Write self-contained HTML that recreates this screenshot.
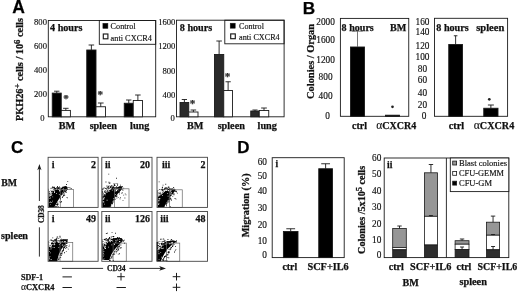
<!DOCTYPE html>
<html><head><meta charset="utf-8"><title>Figure</title>
<style>html,body{margin:0;padding:0;background:#fff}body{width:520px;height:292px;overflow:hidden}svg{display:block}</style>
</head><body>
<svg width="520" height="292" viewBox="0 0 520 292" style="filter:blur(0.35px)">
<rect width="520" height="292" fill="#fff"/>
<text x="12.3" y="13.2" font-size="17.5" font-family='"Liberation Sans", sans-serif' font-weight="bold" stroke="#111" stroke-width="0.25" text-anchor="start" fill="#000">A</text>
<text x="302.8" y="13.5" font-size="17.2" font-family='"Liberation Sans", sans-serif' font-weight="bold" stroke="#111" stroke-width="0.25" text-anchor="start" fill="#000">B</text>
<text x="11" y="153.2" font-size="17" font-family='"Liberation Sans", sans-serif' font-weight="bold" stroke="#111" stroke-width="0.25" text-anchor="start" fill="#000">C</text>
<text x="237.2" y="153" font-size="17" font-family='"Liberation Sans", sans-serif' font-weight="bold" stroke="#111" stroke-width="0.25" text-anchor="start" fill="#000">D</text>
<rect x="48.30" y="20.50" width="107.40" height="96.30" fill="none" stroke="#1a1a1a" stroke-width="0.9"/>
<text x="40.5" y="96.725" font-size="8.6" font-family='"Liberation Serif", serif' stroke="#111" stroke-width="0.15" text-anchor="middle" fill="#111">200</text>
<text x="40.5" y="72.65" font-size="8.6" font-family='"Liberation Serif", serif' stroke="#111" stroke-width="0.15" text-anchor="middle" fill="#111">400</text>
<text x="40.5" y="48.575" font-size="8.6" font-family='"Liberation Serif", serif' stroke="#111" stroke-width="0.15" text-anchor="middle" fill="#111">600</text>
<text x="40.5" y="24.5" font-size="8.6" font-family='"Liberation Serif", serif' stroke="#111" stroke-width="0.15" text-anchor="middle" fill="#111">800</text>
<text x="42.3" y="121" font-size="8.6" font-family='"Liberation Serif", serif' stroke="#111" stroke-width="0.15" text-anchor="middle" fill="#111">0</text>
<text x="23.4" y="69.6" font-size="10" font-family='"Liberation Serif", serif' font-weight="bold" stroke="#111" stroke-width="0.25" text-anchor="middle" fill="#111" transform="rotate(-90 23.4 69.6)" textLength="103" lengthAdjust="spacingAndGlyphs">PKH26<tspan dy="-3.2" font-size="8.5">+</tspan><tspan dy="3.2"> cells / 10</tspan><tspan dy="-3.2" font-size="8.5">6</tspan><tspan dy="3.2"> cells</tspan></text>
<text x="50" y="31.2" font-size="10.2" font-family='"Liberation Serif", serif' font-weight="bold" stroke="#111" stroke-width="0.25" text-anchor="start" fill="#111" textLength="32.5" lengthAdjust="spacingAndGlyphs">4 hours</text>
<rect x="99.30" y="20.50" width="56.40" height="23.80" fill="none" stroke="#1a1a1a" stroke-width="0.9"/>
<rect x="102.90" y="23.30" width="5.00" height="5.10" fill="#000" stroke="#1a1a1a" stroke-width="0.5"/>
<text x="110.6" y="29" font-size="8.3" font-family='"Liberation Serif", serif' stroke="#111" stroke-width="0.15" text-anchor="start" fill="#111" textLength="25" lengthAdjust="spacingAndGlyphs">Control</text>
<rect x="103.30" y="34.00" width="4.60" height="4.80" fill="#fff" stroke="#1a1a1a" stroke-width="1.15"/>
<text x="110.6" y="40.6" font-size="8.3" font-family='"Liberation Serif", serif' stroke="#111" stroke-width="0.15" text-anchor="start" fill="#111" textLength="41.3" lengthAdjust="spacingAndGlyphs">anti CXCR4</text>
<rect x="52.25" y="93.10" width="9.00" height="23.70" fill="#000" stroke="#1a1a1a" stroke-width="0.9"/>
<line x1="56.75" y1="93.10" x2="56.75" y2="91.20" stroke="#1a1a1a" stroke-width="0.9"/>
<line x1="54.05" y1="91.20" x2="59.45" y2="91.20" stroke="#1a1a1a" stroke-width="0.9"/>
<rect x="61.25" y="110.40" width="9.15" height="6.40" fill="#fff" stroke="#1a1a1a" stroke-width="0.9"/>
<line x1="65.83" y1="110.40" x2="65.83" y2="108.30" stroke="#1a1a1a" stroke-width="0.9"/>
<line x1="63.08" y1="108.30" x2="68.57" y2="108.30" stroke="#1a1a1a" stroke-width="0.9"/>
<rect x="86.75" y="50.00" width="9.25" height="66.80" fill="#000" stroke="#1a1a1a" stroke-width="0.9"/>
<line x1="91.38" y1="50.00" x2="91.38" y2="45.00" stroke="#1a1a1a" stroke-width="0.9"/>
<line x1="88.60" y1="45.00" x2="94.15" y2="45.00" stroke="#1a1a1a" stroke-width="0.9"/>
<rect x="96.00" y="106.75" width="9.50" height="10.05" fill="#fff" stroke="#1a1a1a" stroke-width="0.9"/>
<line x1="100.75" y1="106.75" x2="100.75" y2="103.00" stroke="#1a1a1a" stroke-width="0.9"/>
<line x1="97.90" y1="103.00" x2="103.60" y2="103.00" stroke="#1a1a1a" stroke-width="0.9"/>
<rect x="124.25" y="103.25" width="9.00" height="13.55" fill="#000" stroke="#1a1a1a" stroke-width="0.9"/>
<line x1="128.75" y1="103.25" x2="128.75" y2="100.00" stroke="#1a1a1a" stroke-width="0.9"/>
<line x1="126.05" y1="100.00" x2="131.45" y2="100.00" stroke="#1a1a1a" stroke-width="0.9"/>
<rect x="133.25" y="100.50" width="9.25" height="16.30" fill="#fff" stroke="#1a1a1a" stroke-width="0.9"/>
<line x1="137.88" y1="100.50" x2="137.88" y2="95.00" stroke="#1a1a1a" stroke-width="0.9"/>
<line x1="135.10" y1="95.00" x2="140.65" y2="95.00" stroke="#1a1a1a" stroke-width="0.9"/>
<text x="65.9" y="101.5" font-size="11" font-family='"Liberation Serif", serif' font-weight="bold" stroke="#111" stroke-width="0.25" text-anchor="middle" fill="#444">*</text>
<text x="100.3" y="97.8" font-size="11" font-family='"Liberation Serif", serif' font-weight="bold" stroke="#111" stroke-width="0.25" text-anchor="middle" fill="#444">*</text>
<text x="66.9" y="129.3" font-size="10.2" font-family='"Liberation Serif", serif' font-weight="bold" stroke="#111" stroke-width="0.25" text-anchor="middle" fill="#111">BM</text>
<text x="103.25" y="129.3" font-size="10.2" font-family='"Liberation Serif", serif' font-weight="bold" stroke="#111" stroke-width="0.25" text-anchor="middle" fill="#111">spleen</text>
<text x="139.75" y="129.3" font-size="10.2" font-family='"Liberation Serif", serif' font-weight="bold" stroke="#111" stroke-width="0.25" text-anchor="middle" fill="#111">lung</text>
<rect x="176.50" y="20.20" width="107.60" height="96.60" fill="none" stroke="#1a1a1a" stroke-width="0.9"/>
<text x="175.4" y="97.75" font-size="8.6" font-family='"Liberation Serif", serif' stroke="#111" stroke-width="0.15" text-anchor="end" fill="#111">400</text>
<text x="175.4" y="73.6" font-size="8.6" font-family='"Liberation Serif", serif' stroke="#111" stroke-width="0.15" text-anchor="end" fill="#111">800</text>
<text x="175.4" y="49.449999999999996" font-size="8.6" font-family='"Liberation Serif", serif' stroke="#111" stroke-width="0.15" text-anchor="end" fill="#111">1200</text>
<text x="175.4" y="25.300000000000004" font-size="8.6" font-family='"Liberation Serif", serif' stroke="#111" stroke-width="0.15" text-anchor="end" fill="#111">1600</text>
<text x="174.8" y="120.6" font-size="8.6" font-family='"Liberation Serif", serif' stroke="#111" stroke-width="0.15" text-anchor="end" fill="#111">0</text>
<text x="179.75" y="30.6" font-size="10.2" font-family='"Liberation Serif", serif' font-weight="bold" stroke="#111" stroke-width="0.25" text-anchor="start" fill="#111" textLength="32.5" lengthAdjust="spacingAndGlyphs">8 hours</text>
<rect x="224.80" y="20.20" width="59.30" height="23.60" fill="none" stroke="#1a1a1a" stroke-width="0.9"/>
<rect x="230.20" y="23.20" width="5.00" height="5.00" fill="#000" stroke="#1a1a1a" stroke-width="0.5"/>
<text x="239.1" y="28.8" font-size="8.3" font-family='"Liberation Serif", serif' stroke="#111" stroke-width="0.15" text-anchor="start" fill="#111" textLength="24.8" lengthAdjust="spacingAndGlyphs">Control</text>
<rect x="230.70" y="33.90" width="4.60" height="4.80" fill="#fff" stroke="#1a1a1a" stroke-width="1.15"/>
<text x="239.1" y="40.4" font-size="8.3" font-family='"Liberation Serif", serif' stroke="#111" stroke-width="0.15" text-anchor="start" fill="#111" textLength="40.6" lengthAdjust="spacingAndGlyphs">anti CXCR4</text>
<rect x="180.00" y="102.50" width="8.75" height="14.30" fill="#2a2a2a" stroke="#1a1a1a" stroke-width="0.9"/>
<line x1="184.38" y1="102.50" x2="184.38" y2="99.50" stroke="#1a1a1a" stroke-width="0.9"/>
<line x1="181.75" y1="99.50" x2="187.00" y2="99.50" stroke="#1a1a1a" stroke-width="0.9"/>
<rect x="188.75" y="112.00" width="9.25" height="4.80" fill="#fff" stroke="#1a1a1a" stroke-width="0.9"/>
<line x1="193.38" y1="112.00" x2="193.38" y2="110.00" stroke="#1a1a1a" stroke-width="0.9"/>
<line x1="190.60" y1="110.00" x2="196.15" y2="110.00" stroke="#1a1a1a" stroke-width="0.9"/>
<rect x="214.50" y="54.50" width="9.25" height="62.30" fill="#2a2a2a" stroke="#1a1a1a" stroke-width="0.9"/>
<line x1="219.12" y1="54.50" x2="219.12" y2="41.00" stroke="#1a1a1a" stroke-width="0.9"/>
<line x1="216.35" y1="41.00" x2="221.90" y2="41.00" stroke="#1a1a1a" stroke-width="0.9"/>
<rect x="223.75" y="90.50" width="8.75" height="26.30" fill="#fff" stroke="#1a1a1a" stroke-width="0.9"/>
<line x1="228.12" y1="90.50" x2="228.12" y2="81.75" stroke="#1a1a1a" stroke-width="0.9"/>
<line x1="225.50" y1="81.75" x2="230.75" y2="81.75" stroke="#1a1a1a" stroke-width="0.9"/>
<rect x="250.75" y="111.00" width="8.50" height="5.80" fill="#2a2a2a" stroke="#1a1a1a" stroke-width="0.9"/>
<line x1="255.00" y1="111.00" x2="255.00" y2="110.00" stroke="#1a1a1a" stroke-width="0.9"/>
<line x1="252.45" y1="110.00" x2="257.55" y2="110.00" stroke="#1a1a1a" stroke-width="0.9"/>
<rect x="259.25" y="110.50" width="9.50" height="6.30" fill="#fff" stroke="#1a1a1a" stroke-width="0.9"/>
<line x1="264.00" y1="110.50" x2="264.00" y2="108.00" stroke="#1a1a1a" stroke-width="0.9"/>
<line x1="261.15" y1="108.00" x2="266.85" y2="108.00" stroke="#1a1a1a" stroke-width="0.9"/>
<text x="192.6" y="107.4" font-size="11" font-family='"Liberation Serif", serif' font-weight="bold" stroke="#111" stroke-width="0.25" text-anchor="middle" fill="#444">*</text>
<text x="227.6" y="79.5" font-size="11" font-family='"Liberation Serif", serif' font-weight="bold" stroke="#111" stroke-width="0.25" text-anchor="middle" fill="#444">*</text>
<text x="195.1" y="129.3" font-size="10.2" font-family='"Liberation Serif", serif' font-weight="bold" stroke="#111" stroke-width="0.25" text-anchor="middle" fill="#111">BM</text>
<text x="231.25" y="129.3" font-size="10.2" font-family='"Liberation Serif", serif' font-weight="bold" stroke="#111" stroke-width="0.25" text-anchor="middle" fill="#111">spleen</text>
<text x="267.25" y="129.3" font-size="10.2" font-family='"Liberation Serif", serif' font-weight="bold" stroke="#111" stroke-width="0.25" text-anchor="middle" fill="#111">lung</text>
<rect x="340.40" y="18.40" width="68.35" height="97.90" fill="none" stroke="#1a1a1a" stroke-width="0.9"/>
<text x="325.6" y="24.85" font-size="9.3" font-family='"Liberation Serif", serif' stroke="#111" stroke-width="0.15" text-anchor="middle" fill="#111">2000</text>
<text x="325.6" y="43.1" font-size="9.3" font-family='"Liberation Serif", serif' stroke="#111" stroke-width="0.15" text-anchor="middle" fill="#111">1600</text>
<text x="325.6" y="62.6" font-size="9.3" font-family='"Liberation Serif", serif' stroke="#111" stroke-width="0.15" text-anchor="middle" fill="#111">1200</text>
<text x="325.6" y="80.1" font-size="9.3" font-family='"Liberation Serif", serif' stroke="#111" stroke-width="0.15" text-anchor="middle" fill="#111">800</text>
<text x="325.6" y="98.5" font-size="9.3" font-family='"Liberation Serif", serif' stroke="#111" stroke-width="0.15" text-anchor="middle" fill="#111">400</text>
<text x="327.6" y="119.1" font-size="9.3" font-family='"Liberation Serif", serif' stroke="#111" stroke-width="0.15" text-anchor="middle" fill="#111">0</text>
<text x="313.8" y="61.4" font-size="10.5" font-family='"Liberation Serif", serif' font-weight="bold" stroke="#111" stroke-width="0.25" text-anchor="middle" fill="#111" transform="rotate(-90 313.8 61.4)" textLength="75" lengthAdjust="spacingAndGlyphs">Colonies / Organ</text>
<text x="341.6" y="30.6" font-size="10.2" font-family='"Liberation Serif", serif' font-weight="bold" stroke="#111" stroke-width="0.25" text-anchor="start" fill="#111" textLength="32.2" lengthAdjust="spacingAndGlyphs">8 hours</text>
<text x="390" y="30.6" font-size="10.2" font-family='"Liberation Serif", serif' font-weight="bold" stroke="#111" stroke-width="0.25" text-anchor="start" fill="#111" textLength="16.3" lengthAdjust="spacingAndGlyphs">BM</text>
<rect x="350.50" y="47.00" width="14.00" height="69.30" fill="#000" stroke="#1a1a1a" stroke-width="0.9"/>
<line x1="357.50" y1="47.00" x2="357.50" y2="31.20" stroke="#555" stroke-width="0.8"/>
<line x1="352.00" y1="31.20" x2="363.00" y2="31.20" stroke="#555" stroke-width="0.8"/>
<rect x="385.50" y="115.20" width="14.00" height="1.10" fill="#000" stroke="#1a1a1a" stroke-width="0.9"/>
<circle cx="392.5" cy="106.8" r="1.35" fill="#222"/>
<text x="352" y="128.6" font-size="10.2" font-family='"Liberation Serif", serif' font-weight="bold" stroke="#111" stroke-width="0.25" text-anchor="start" fill="#111" textLength="15" lengthAdjust="spacingAndGlyphs">ctrl</text>
<text x="376.2" y="128.6" font-size="10.2" font-family='"Liberation Serif", serif' font-weight="bold" stroke="#111" stroke-width="0.25" text-anchor="start" fill="#111" textLength="40" lengthAdjust="spacingAndGlyphs"><tspan font-weight="normal" stroke-width="0.1" font-size="1.15em">α</tspan>CXCR4</text>
<rect x="434.50" y="18.30" width="73.10" height="98.00" fill="none" stroke="#1a1a1a" stroke-width="0.9"/>
<text x="422.5" y="25.05" font-size="9.3" font-family='"Liberation Serif", serif' stroke="#111" stroke-width="0.15" text-anchor="middle" fill="#111">160</text>
<text x="422.5" y="35.05" font-size="9.3" font-family='"Liberation Serif", serif' stroke="#111" stroke-width="0.15" text-anchor="middle" fill="#111">140</text>
<text x="422.5" y="48.8" font-size="9.3" font-family='"Liberation Serif", serif' stroke="#111" stroke-width="0.15" text-anchor="middle" fill="#111">120</text>
<text x="422.5" y="60.05" font-size="9.3" font-family='"Liberation Serif", serif' stroke="#111" stroke-width="0.15" text-anchor="middle" fill="#111">100</text>
<text x="422.5" y="71.8" font-size="9.3" font-family='"Liberation Serif", serif' stroke="#111" stroke-width="0.15" text-anchor="middle" fill="#111">80</text>
<text x="422.5" y="82.55" font-size="9.3" font-family='"Liberation Serif", serif' stroke="#111" stroke-width="0.15" text-anchor="middle" fill="#111">60</text>
<text x="422.5" y="95.8" font-size="9.3" font-family='"Liberation Serif", serif' stroke="#111" stroke-width="0.15" text-anchor="middle" fill="#111">40</text>
<text x="422.5" y="108.1" font-size="9.3" font-family='"Liberation Serif", serif' stroke="#111" stroke-width="0.15" text-anchor="middle" fill="#111">20</text>
<text x="424" y="118.6" font-size="9.3" font-family='"Liberation Serif", serif' stroke="#111" stroke-width="0.15" text-anchor="middle" fill="#111">0</text>
<text x="436.25" y="30.6" font-size="10.2" font-family='"Liberation Serif", serif' font-weight="bold" stroke="#111" stroke-width="0.25" text-anchor="start" fill="#111" textLength="32.5" lengthAdjust="spacingAndGlyphs">8 hours</text>
<text x="476.25" y="30.6" font-size="10.2" font-family='"Liberation Serif", serif' font-weight="bold" stroke="#111" stroke-width="0.25" text-anchor="start" fill="#111" textLength="28" lengthAdjust="spacingAndGlyphs">spleen</text>
<rect x="448.75" y="44.50" width="13.75" height="71.80" fill="#000" stroke="#1a1a1a" stroke-width="0.9"/>
<line x1="455.62" y1="44.50" x2="455.62" y2="35.75" stroke="#1a1a1a" stroke-width="0.9"/>
<line x1="453.82" y1="35.75" x2="457.43" y2="35.75" stroke="#1a1a1a" stroke-width="0.9"/>
<rect x="483.75" y="108.25" width="14.25" height="8.05" fill="#000" stroke="#1a1a1a" stroke-width="0.9"/>
<line x1="490.88" y1="108.25" x2="490.88" y2="105.00" stroke="#1a1a1a" stroke-width="0.9"/>
<line x1="487.88" y1="105.00" x2="493.88" y2="105.00" stroke="#1a1a1a" stroke-width="0.9"/>
<circle cx="489.3" cy="99.3" r="1.35" fill="#222"/>
<text x="448.75" y="128.6" font-size="10.2" font-family='"Liberation Serif", serif' font-weight="bold" stroke="#111" stroke-width="0.25" text-anchor="start" fill="#111" textLength="15.5" lengthAdjust="spacingAndGlyphs">ctrl</text>
<text x="473.75" y="128.6" font-size="10.2" font-family='"Liberation Serif", serif' font-weight="bold" stroke="#111" stroke-width="0.25" text-anchor="start" fill="#111" textLength="40.5" lengthAdjust="spacingAndGlyphs"><tspan font-weight="normal" stroke-width="0.1" font-size="1.15em">α</tspan>CXCR4</text>
<polygon points="48.6,189.3 51.0,188.0 54.0,188.8 57.0,187.2 60.5,188.8 64.0,186.3 67.0,186.6 67.6,188.3 64.5,192.0 61.0,196.0 58.0,200.6 55.5,205.0 54.3,207.3 48.6,207.3" fill="#000"/>
<path d="M57.1 187.4h0.9v0.9h-0.9zM64.0 187.7h0.9v0.9h-0.9zM57.7 187.3h0.9v0.9h-0.9zM54.0 187.5h0.9v0.9h-0.9zM59.1 186.4h0.9v0.9h-0.9zM52.5 188.0h0.9v0.9h-0.9zM52.4 186.3h0.9v0.9h-0.9zM59.9 188.4h0.9v0.9h-0.9zM66.0 184.0h0.9v0.9h-0.9zM59.4 187.2h0.9v0.9h-0.9zM53.6 188.5h0.9v0.9h-0.9zM57.9 188.4h0.9v0.9h-0.9zM54.1 188.1h0.9v0.9h-0.9zM50.8 187.7h0.9v0.9h-0.9zM57.0 186.0h0.9v0.9h-0.9zM57.8 187.1h0.9v0.9h-0.9zM57.6 187.0h0.9v0.9h-0.9zM57.2 188.1h0.9v0.9h-0.9zM67.3 181.2h0.9v0.9h-0.9zM62.1 186.8h0.9v0.9h-0.9zM55.7 188.1h0.9v0.9h-0.9zM55.4 188.4h0.9v0.9h-0.9zM60.9 187.8h0.9v0.9h-0.9zM62.2 187.8h0.9v0.9h-0.9zM65.0 186.0h0.9v0.9h-0.9zM48.9 188.2h0.9v0.9h-0.9zM63.6 187.6h0.9v0.9h-0.9zM65.9 187.8h0.9v0.9h-0.9zM52.0 187.2h0.9v0.9h-0.9zM61.1 188.1h0.9v0.9h-0.9zM52.3 188.0h0.9v0.9h-0.9zM65.2 186.6h0.9v0.9h-0.9zM53.0 188.1h0.9v0.9h-0.9zM52.6 188.4h0.9v0.9h-0.9zM61.4 188.2h0.9v0.9h-0.9zM58.2 187.7h0.9v0.9h-0.9zM54.1 186.7h0.9v0.9h-0.9zM53.2 187.1h0.9v0.9h-0.9zM52.9 187.8h0.9v0.9h-0.9zM54.4 188.1h0.9v0.9h-0.9zM65.5 186.3h0.9v0.9h-0.9z" fill="#111"/>
<path d="M65.6 192.1h0.9v0.9h-0.9zM64.2 194.8h0.9v0.9h-0.9zM70.7 188.0h0.9v0.9h-0.9zM65.4 191.4h0.9v0.9h-0.9zM63.4 191.7h0.9v0.9h-0.9zM60.1 198.6h0.9v0.9h-0.9zM63.1 195.0h0.9v0.9h-0.9zM61.9 197.1h0.9v0.9h-0.9zM64.9 191.0h0.9v0.9h-0.9zM57.2 202.6h0.9v0.9h-0.9zM60.9 201.0h0.9v0.9h-0.9zM57.6 206.1h0.9v0.9h-0.9zM61.9 194.2h0.9v0.9h-0.9zM55.4 206.2h0.9v0.9h-0.9zM65.7 191.9h0.9v0.9h-0.9zM63.6 192.9h0.9v0.9h-0.9zM66.4 188.0h0.9v0.9h-0.9zM57.5 203.4h0.9v0.9h-0.9zM55.9 204.2h0.9v0.9h-0.9zM64.3 191.1h0.9v0.9h-0.9zM65.3 190.2h0.9v0.9h-0.9zM65.9 190.0h0.9v0.9h-0.9zM56.0 206.2h0.9v0.9h-0.9zM59.9 197.5h0.9v0.9h-0.9zM69.4 187.3h0.9v0.9h-0.9zM55.1 206.2h0.9v0.9h-0.9zM62.5 196.0h0.9v0.9h-0.9zM54.7 206.2h0.9v0.9h-0.9zM60.4 202.0h0.9v0.9h-0.9zM60.0 201.7h0.9v0.9h-0.9zM63.9 194.5h0.9v0.9h-0.9zM56.8 204.9h0.9v0.9h-0.9zM57.2 204.4h0.9v0.9h-0.9zM63.2 194.5h0.9v0.9h-0.9zM67.1 189.1h0.9v0.9h-0.9zM57.5 204.2h0.9v0.9h-0.9zM58.8 201.4h0.9v0.9h-0.9zM56.7 204.1h0.9v0.9h-0.9zM67.6 187.1h0.9v0.9h-0.9zM65.5 191.2h0.9v0.9h-0.9z" fill="#111"/>
<path d="M58.9 193.9h0.8v0.8h-0.8zM53.2 188.3h0.8v0.8h-0.8zM53.9 190.8h0.8v0.8h-0.8zM52.3 188.7h0.8v0.8h-0.8zM63.5 190.7h0.8v0.8h-0.8zM56.1 193.2h0.8v0.8h-0.8zM54.3 190.7h0.8v0.8h-0.8zM52.3 189.5h0.8v0.8h-0.8zM61.9 193.7h0.8v0.8h-0.8zM63.1 189.4h0.8v0.8h-0.8zM58.4 189.1h0.8v0.8h-0.8zM51.3 189.8h0.8v0.8h-0.8zM62.4 192.5h0.8v0.8h-0.8zM60.4 194.9h0.8v0.8h-0.8zM53.5 188.7h0.8v0.8h-0.8zM56.3 189.0h0.8v0.8h-0.8zM52.5 189.5h0.8v0.8h-0.8zM59.0 189.8h0.8v0.8h-0.8zM54.1 192.3h0.8v0.8h-0.8zM64.7 189.6h0.8v0.8h-0.8zM50.3 188.4h0.8v0.8h-0.8zM63.0 188.4h0.8v0.8h-0.8zM60.4 190.2h0.8v0.8h-0.8zM54.0 191.7h0.8v0.8h-0.8zM49.4 188.6h0.8v0.8h-0.8zM56.3 188.4h0.8v0.8h-0.8zM62.3 188.9h0.8v0.8h-0.8zM51.3 188.4h0.8v0.8h-0.8zM59.1 189.6h0.8v0.8h-0.8zM59.1 190.6h0.8v0.8h-0.8zM61.9 195.3h0.8v0.8h-0.8zM60.0 188.8h0.8v0.8h-0.8zM56.7 188.7h0.8v0.8h-0.8zM49.3 189.7h0.8v0.8h-0.8z" fill="#fff"/>
<path d="M50.4 191.9h0.7v0.7h-0.7zM49.3 194.7h0.7v0.7h-0.7zM50.3 197.5h0.7v0.7h-0.7zM50.0 201.4h0.7v0.7h-0.7zM49.5 202.0h0.7v0.7h-0.7zM51.7 190.4h0.7v0.7h-0.7zM52.1 200.8h0.7v0.7h-0.7zM49.1 196.4h0.7v0.7h-0.7zM50.1 203.9h0.7v0.7h-0.7zM49.5 198.3h0.7v0.7h-0.7zM51.4 202.1h0.7v0.7h-0.7zM52.4 196.6h0.7v0.7h-0.7zM50.2 192.4h0.7v0.7h-0.7zM50.4 202.4h0.7v0.7h-0.7z" fill="#fff"/>
<path d="M50.8 192.3h0.9v0.9h-0.9zM49.7 195.3h0.9v0.9h-0.9zM54.6 189.2h0.9v0.9h-0.9zM52.4 189.4h0.9v0.9h-0.9zM50.7 194.9h0.9v0.9h-0.9zM49.9 190.6h0.9v0.9h-0.9zM50.7 189.9h0.9v0.9h-0.9zM52.2 189.9h0.9v0.9h-0.9zM49.1 188.1h0.9v0.9h-0.9zM48.9 189.2h0.9v0.9h-0.9zM49.0 190.1h0.9v0.9h-0.9zM50.6 193.3h0.9v0.9h-0.9zM49.4 189.5h0.9v0.9h-0.9zM52.1 188.6h0.9v0.9h-0.9zM50.4 192.5h0.9v0.9h-0.9zM51.0 189.4h0.9v0.9h-0.9zM49.5 188.5h0.9v0.9h-0.9zM49.1 192.2h0.9v0.9h-0.9zM49.5 193.5h0.9v0.9h-0.9zM50.3 191.3h0.9v0.9h-0.9zM50.2 191.7h0.9v0.9h-0.9zM49.4 191.2h0.9v0.9h-0.9zM51.3 194.2h0.9v0.9h-0.9zM49.7 194.6h0.9v0.9h-0.9zM51.2 188.8h0.9v0.9h-0.9zM49.9 189.0h0.9v0.9h-0.9zM51.1 188.9h0.9v0.9h-0.9zM49.0 188.5h0.9v0.9h-0.9zM51.2 188.8h0.9v0.9h-0.9zM51.8 191.7h0.9v0.9h-0.9zM51.0 189.6h0.9v0.9h-0.9zM48.9 189.2h0.9v0.9h-0.9zM50.8 188.9h0.9v0.9h-0.9zM53.4 190.1h0.9v0.9h-0.9z" fill="#fff"/>
<path d="M67.1 197.4h0.8v0.8h-0.8zM66.5 197.3h0.8v0.8h-0.8z" fill="#222"/>
<rect x="60.25" y="189.40" width="13.25" height="18.00" fill="none" stroke="#666" stroke-width="0.7"/>
<rect x="48.10" y="157.30" width="50.00" height="50.10" fill="none" stroke="#444" stroke-width="0.9"/>
<text x="51.7" y="167.70000000000002" font-size="10" font-family='"Liberation Serif", serif' font-weight="bold" stroke="#111" stroke-width="0.25" text-anchor="start" fill="#111">i</text>
<text x="96.1" y="167.70000000000002" font-size="10" font-family='"Liberation Serif", serif' font-weight="bold" stroke="#111" stroke-width="0.25" text-anchor="end" fill="#111">2</text>
<polygon points="102.3,188.5 105.0,187.8 109.0,189.3 113.0,189.0 117.0,187.5 120.0,186.0 122.3,186.8 122.0,189.0 118.5,193.0 115.0,197.5 112.3,202.0 110.3,207.3 102.3,207.3" fill="#000"/>
<path d="M115.6 183.2h0.9v0.9h-0.9zM111.2 187.6h0.9v0.9h-0.9zM107.9 186.3h0.9v0.9h-0.9zM117.9 188.2h0.9v0.9h-0.9zM115.0 188.4h0.9v0.9h-0.9zM108.0 187.9h0.9v0.9h-0.9zM113.7 187.6h0.9v0.9h-0.9zM110.0 186.3h0.9v0.9h-0.9zM106.5 185.5h0.9v0.9h-0.9zM106.8 186.8h0.9v0.9h-0.9zM108.7 188.0h0.9v0.9h-0.9zM111.8 187.2h0.9v0.9h-0.9zM110.2 187.3h0.9v0.9h-0.9zM111.8 188.1h0.9v0.9h-0.9zM108.1 186.2h0.9v0.9h-0.9zM113.0 186.8h0.9v0.9h-0.9zM116.2 186.3h0.9v0.9h-0.9zM116.4 187.9h0.9v0.9h-0.9zM114.4 184.7h0.9v0.9h-0.9zM117.3 187.6h0.9v0.9h-0.9zM109.5 182.6h0.9v0.9h-0.9zM108.3 173.7h0.9v0.9h-0.9zM117.0 188.2h0.9v0.9h-0.9zM108.6 185.5h0.9v0.9h-0.9zM108.9 188.3h0.9v0.9h-0.9zM115.9 187.2h0.9v0.9h-0.9zM115.2 188.2h0.9v0.9h-0.9zM110.5 185.8h0.9v0.9h-0.9zM104.0 188.0h0.9v0.9h-0.9zM113.6 182.9h0.9v0.9h-0.9zM119.3 188.2h0.9v0.9h-0.9zM111.5 185.2h0.9v0.9h-0.9zM111.5 185.8h0.9v0.9h-0.9zM107.9 188.3h0.9v0.9h-0.9zM106.5 188.4h0.9v0.9h-0.9zM112.0 186.8h0.9v0.9h-0.9zM112.2 188.1h0.9v0.9h-0.9zM107.8 188.0h0.9v0.9h-0.9zM116.0 177.8h0.9v0.9h-0.9zM118.0 188.3h0.9v0.9h-0.9zM105.5 181.5h0.9v0.9h-0.9zM111.1 185.2h0.9v0.9h-0.9zM109.7 187.0h0.9v0.9h-0.9zM111.6 187.2h0.9v0.9h-0.9zM112.6 188.5h0.9v0.9h-0.9zM113.8 184.2h0.9v0.9h-0.9zM107.8 187.1h0.9v0.9h-0.9zM114.4 187.3h0.9v0.9h-0.9zM108.0 188.1h0.9v0.9h-0.9zM111.6 188.5h0.9v0.9h-0.9zM117.1 184.8h0.9v0.9h-0.9zM113.9 183.9h0.9v0.9h-0.9zM112.9 187.3h0.9v0.9h-0.9zM112.6 186.9h0.9v0.9h-0.9zM120.0 184.7h0.9v0.9h-0.9zM108.8 182.9h0.9v0.9h-0.9zM114.5 185.0h0.9v0.9h-0.9zM115.6 187.3h0.9v0.9h-0.9zM117.2 183.6h0.9v0.9h-0.9zM113.8 185.1h0.9v0.9h-0.9zM114.8 187.3h0.9v0.9h-0.9zM114.1 188.3h0.9v0.9h-0.9zM109.8 187.0h0.9v0.9h-0.9zM103.6 187.5h0.9v0.9h-0.9zM113.0 186.2h0.9v0.9h-0.9zM108.5 181.8h0.9v0.9h-0.9zM113.4 187.5h0.9v0.9h-0.9zM113.3 186.6h0.9v0.9h-0.9zM111.8 187.4h0.9v0.9h-0.9zM121.8 186.1h0.9v0.9h-0.9zM113.9 185.2h0.9v0.9h-0.9z" fill="#111"/>
<path d="M108.6 206.2h0.9v0.9h-0.9zM111.9 201.4h0.9v0.9h-0.9zM120.6 187.3h0.9v0.9h-0.9zM120.1 189.3h0.9v0.9h-0.9zM114.8 198.7h0.9v0.9h-0.9zM119.6 198.4h0.9v0.9h-0.9zM110.8 203.2h0.9v0.9h-0.9zM111.4 202.8h0.9v0.9h-0.9zM119.7 189.1h0.9v0.9h-0.9zM115.7 195.7h0.9v0.9h-0.9zM109.6 205.8h0.9v0.9h-0.9zM113.9 198.3h0.9v0.9h-0.9zM113.6 199.4h0.9v0.9h-0.9zM112.3 200.1h0.9v0.9h-0.9zM117.9 190.8h0.9v0.9h-0.9zM112.0 202.7h0.9v0.9h-0.9zM111.6 202.7h0.9v0.9h-0.9zM109.1 206.2h0.9v0.9h-0.9zM116.3 196.2h0.9v0.9h-0.9zM118.7 192.3h0.9v0.9h-0.9zM112.5 202.2h0.9v0.9h-0.9zM111.6 202.4h0.9v0.9h-0.9zM113.7 198.6h0.9v0.9h-0.9zM121.2 186.8h0.9v0.9h-0.9zM116.6 195.4h0.9v0.9h-0.9zM118.6 191.7h0.9v0.9h-0.9zM112.0 203.4h0.9v0.9h-0.9zM110.4 205.4h0.9v0.9h-0.9zM122.0 189.4h0.9v0.9h-0.9zM113.6 198.8h0.9v0.9h-0.9zM113.2 200.7h0.9v0.9h-0.9zM114.5 198.8h0.9v0.9h-0.9zM122.1 192.4h0.9v0.9h-0.9zM109.9 203.5h0.9v0.9h-0.9zM118.2 192.3h0.9v0.9h-0.9zM120.6 187.7h0.9v0.9h-0.9zM121.1 188.4h0.9v0.9h-0.9zM113.5 199.3h0.9v0.9h-0.9zM118.8 191.3h0.9v0.9h-0.9zM110.4 202.8h0.9v0.9h-0.9z" fill="#111"/>
<path d="M115.9 190.5h0.8v0.8h-0.8zM115.3 188.8h0.8v0.8h-0.8zM109.7 189.0h0.8v0.8h-0.8zM115.9 189.3h0.8v0.8h-0.8zM113.4 198.3h0.8v0.8h-0.8zM108.1 190.0h0.8v0.8h-0.8zM114.9 193.9h0.8v0.8h-0.8zM109.7 189.3h0.8v0.8h-0.8zM104.4 192.9h0.8v0.8h-0.8zM104.1 188.5h0.8v0.8h-0.8zM111.9 189.8h0.8v0.8h-0.8zM113.9 189.1h0.8v0.8h-0.8zM115.4 188.5h0.8v0.8h-0.8zM106.3 190.7h0.8v0.8h-0.8zM104.1 189.1h0.8v0.8h-0.8zM114.5 190.9h0.8v0.8h-0.8zM107.4 188.6h0.8v0.8h-0.8zM108.6 191.1h0.8v0.8h-0.8zM108.7 188.6h0.8v0.8h-0.8zM114.3 190.2h0.8v0.8h-0.8zM117.7 194.5h0.8v0.8h-0.8zM117.6 189.6h0.8v0.8h-0.8zM115.8 189.1h0.8v0.8h-0.8zM107.9 189.4h0.8v0.8h-0.8zM117.9 193.3h0.8v0.8h-0.8zM106.8 189.3h0.8v0.8h-0.8zM108.7 189.3h0.8v0.8h-0.8zM109.2 189.4h0.8v0.8h-0.8zM106.0 190.1h0.8v0.8h-0.8zM115.7 190.0h0.8v0.8h-0.8zM116.3 190.1h0.8v0.8h-0.8zM105.7 191.4h0.8v0.8h-0.8zM117.1 189.0h0.8v0.8h-0.8zM103.2 189.9h0.8v0.8h-0.8z" fill="#fff"/>
<path d="M103.5 198.3h0.7v0.7h-0.7zM106.7 199.7h0.7v0.7h-0.7zM104.6 190.1h0.7v0.7h-0.7zM103.5 201.9h0.7v0.7h-0.7zM102.7 190.3h0.7v0.7h-0.7zM104.2 203.7h0.7v0.7h-0.7zM102.7 199.4h0.7v0.7h-0.7zM102.8 201.2h0.7v0.7h-0.7zM103.9 193.0h0.7v0.7h-0.7zM102.9 201.6h0.7v0.7h-0.7zM103.5 201.5h0.7v0.7h-0.7zM103.2 194.5h0.7v0.7h-0.7zM106.7 200.0h0.7v0.7h-0.7zM103.4 197.8h0.7v0.7h-0.7z" fill="#fff"/>
<path d="M102.9 193.4h0.9v0.9h-0.9zM104.2 189.8h0.9v0.9h-0.9zM103.8 192.6h0.9v0.9h-0.9zM104.7 193.0h0.9v0.9h-0.9zM104.6 194.3h0.9v0.9h-0.9zM105.3 189.3h0.9v0.9h-0.9zM105.7 188.8h0.9v0.9h-0.9zM103.0 191.5h0.9v0.9h-0.9zM103.4 188.9h0.9v0.9h-0.9zM102.7 198.7h0.9v0.9h-0.9zM103.2 189.5h0.9v0.9h-0.9zM103.0 191.5h0.9v0.9h-0.9zM103.8 196.9h0.9v0.9h-0.9zM104.1 189.1h0.9v0.9h-0.9zM104.7 191.3h0.9v0.9h-0.9zM102.5 190.2h0.9v0.9h-0.9zM104.6 189.5h0.9v0.9h-0.9zM106.5 191.9h0.9v0.9h-0.9zM103.3 188.4h0.9v0.9h-0.9zM102.9 190.2h0.9v0.9h-0.9zM102.6 193.5h0.9v0.9h-0.9zM103.6 189.4h0.9v0.9h-0.9zM103.0 190.6h0.9v0.9h-0.9zM104.0 193.2h0.9v0.9h-0.9zM103.3 192.1h0.9v0.9h-0.9zM103.3 191.6h0.9v0.9h-0.9zM102.6 195.3h0.9v0.9h-0.9zM104.0 189.6h0.9v0.9h-0.9zM107.6 190.6h0.9v0.9h-0.9zM103.8 188.3h0.9v0.9h-0.9zM107.4 190.6h0.9v0.9h-0.9zM103.0 191.3h0.9v0.9h-0.9zM104.9 188.7h0.9v0.9h-0.9zM103.3 198.5h0.9v0.9h-0.9z" fill="#fff"/>
<path d="M122.7 189.7h0.8v0.8h-0.8zM116.6 192.9h0.8v0.8h-0.8zM120.0 197.3h0.8v0.8h-0.8zM123.3 194.7h0.8v0.8h-0.8zM118.0 188.6h0.8v0.8h-0.8zM119.6 190.0h0.8v0.8h-0.8zM124.8 193.5h0.8v0.8h-0.8zM122.6 199.9h0.8v0.8h-0.8zM119.0 193.7h0.8v0.8h-0.8zM117.9 196.9h0.8v0.8h-0.8zM116.5 197.6h0.8v0.8h-0.8zM124.5 197.6h0.8v0.8h-0.8zM117.3 190.1h0.8v0.8h-0.8zM123.3 187.8h0.8v0.8h-0.8zM121.1 192.8h0.8v0.8h-0.8zM125.6 194.4h0.8v0.8h-0.8z" fill="#222"/>
<rect x="114.40" y="188.80" width="14.60" height="18.60" fill="none" stroke="#666" stroke-width="0.7"/>
<rect x="101.80" y="157.30" width="50.20" height="50.10" fill="none" stroke="#444" stroke-width="0.9"/>
<text x="105.1" y="167.70000000000002" font-size="10" font-family='"Liberation Serif", serif' font-weight="bold" stroke="#111" stroke-width="0.25" text-anchor="start" fill="#111">ii</text>
<text x="150" y="167.70000000000002" font-size="10" font-family='"Liberation Serif", serif' font-weight="bold" stroke="#111" stroke-width="0.25" text-anchor="end" fill="#111">20</text>
<polygon points="157.5,190.3 160.0,189.8 165.0,190.8 170.0,189.8 175.3,189.2 175.6,190.5 172.0,194.5 168.5,199.0 166.0,203.5 164.0,207.3 157.5,207.3" fill="#000"/>
<path d="M170.0 189.2h0.9v0.9h-0.9zM168.9 188.8h0.9v0.9h-0.9zM171.2 189.6h0.9v0.9h-0.9zM169.5 189.4h0.9v0.9h-0.9zM166.0 188.5h0.9v0.9h-0.9zM162.0 186.7h0.9v0.9h-0.9zM163.9 189.1h0.9v0.9h-0.9zM160.6 189.2h0.9v0.9h-0.9zM165.3 187.6h0.9v0.9h-0.9zM164.3 187.8h0.9v0.9h-0.9zM161.2 188.9h0.9v0.9h-0.9zM165.3 183.8h0.9v0.9h-0.9zM169.5 187.9h0.9v0.9h-0.9zM158.8 189.0h0.9v0.9h-0.9zM167.8 189.3h0.9v0.9h-0.9zM166.2 188.7h0.9v0.9h-0.9zM158.7 181.4h0.9v0.9h-0.9zM169.1 189.4h0.9v0.9h-0.9zM166.8 189.2h0.9v0.9h-0.9zM164.5 188.4h0.9v0.9h-0.9zM163.7 189.1h0.9v0.9h-0.9zM164.6 187.9h0.9v0.9h-0.9zM163.3 189.4h0.9v0.9h-0.9zM168.1 189.1h0.9v0.9h-0.9zM171.9 188.3h0.9v0.9h-0.9zM168.0 189.1h0.9v0.9h-0.9zM169.5 189.6h0.9v0.9h-0.9zM161.8 189.6h0.9v0.9h-0.9zM167.5 187.6h0.9v0.9h-0.9zM162.3 188.9h0.9v0.9h-0.9zM169.6 188.2h0.9v0.9h-0.9zM160.9 189.3h0.9v0.9h-0.9zM162.0 189.6h0.9v0.9h-0.9zM164.8 189.7h0.9v0.9h-0.9zM171.3 188.8h0.9v0.9h-0.9zM165.7 188.0h0.9v0.9h-0.9zM168.6 186.8h0.9v0.9h-0.9zM164.6 189.1h0.9v0.9h-0.9zM164.8 189.8h0.9v0.9h-0.9zM164.7 187.7h0.9v0.9h-0.9zM173.2 187.0h0.9v0.9h-0.9zM167.3 188.1h0.9v0.9h-0.9zM159.1 189.1h0.9v0.9h-0.9zM164.2 187.9h0.9v0.9h-0.9zM161.2 189.0h0.9v0.9h-0.9zM165.7 187.1h0.9v0.9h-0.9zM169.4 188.1h0.9v0.9h-0.9zM162.0 187.2h0.9v0.9h-0.9zM170.9 188.4h0.9v0.9h-0.9zM164.3 188.6h0.9v0.9h-0.9zM161.8 187.6h0.9v0.9h-0.9zM173.5 188.5h0.9v0.9h-0.9zM167.9 186.6h0.9v0.9h-0.9zM162.6 184.7h0.9v0.9h-0.9z" fill="#111"/>
<path d="M167.7 199.2h0.9v0.9h-0.9zM172.4 193.4h0.9v0.9h-0.9zM173.5 194.3h0.9v0.9h-0.9zM169.3 198.0h0.9v0.9h-0.9zM175.2 191.1h0.9v0.9h-0.9zM169.0 198.3h0.9v0.9h-0.9zM169.8 205.9h0.9v0.9h-0.9zM167.8 200.2h0.9v0.9h-0.9zM173.5 193.3h0.9v0.9h-0.9zM169.9 198.4h0.9v0.9h-0.9zM168.3 197.6h0.9v0.9h-0.9zM176.9 192.7h0.9v0.9h-0.9zM167.5 201.0h0.9v0.9h-0.9zM166.8 202.3h0.9v0.9h-0.9zM165.6 202.7h0.9v0.9h-0.9zM169.3 196.9h0.9v0.9h-0.9zM168.2 199.0h0.9v0.9h-0.9zM172.2 193.0h0.9v0.9h-0.9zM167.3 200.6h0.9v0.9h-0.9zM176.0 191.4h0.9v0.9h-0.9zM169.6 197.4h0.9v0.9h-0.9zM168.3 201.7h0.9v0.9h-0.9zM174.6 198.1h0.9v0.9h-0.9zM165.6 204.1h0.9v0.9h-0.9zM170.6 199.0h0.9v0.9h-0.9zM169.1 199.0h0.9v0.9h-0.9zM170.7 194.9h0.9v0.9h-0.9zM166.0 205.3h0.9v0.9h-0.9zM166.5 202.5h0.9v0.9h-0.9zM173.4 189.7h0.9v0.9h-0.9zM169.3 196.9h0.9v0.9h-0.9zM167.5 200.8h0.9v0.9h-0.9zM171.3 193.6h0.9v0.9h-0.9zM175.9 190.7h0.9v0.9h-0.9zM169.2 200.6h0.9v0.9h-0.9zM165.8 203.8h0.9v0.9h-0.9zM170.6 198.1h0.9v0.9h-0.9zM165.8 203.2h0.9v0.9h-0.9zM164.0 205.5h0.9v0.9h-0.9zM171.3 193.1h0.9v0.9h-0.9z" fill="#111"/>
<path d="M170.5 193.3h0.8v0.8h-0.8zM163.6 190.6h0.8v0.8h-0.8zM166.2 189.7h0.8v0.8h-0.8zM158.4 194.6h0.8v0.8h-0.8zM162.3 191.1h0.8v0.8h-0.8zM171.1 197.9h0.8v0.8h-0.8zM164.6 190.1h0.8v0.8h-0.8zM162.1 195.2h0.8v0.8h-0.8zM170.6 190.1h0.8v0.8h-0.8zM169.7 190.6h0.8v0.8h-0.8zM164.6 190.0h0.8v0.8h-0.8zM170.3 201.4h0.8v0.8h-0.8zM160.8 191.8h0.8v0.8h-0.8zM160.7 194.3h0.8v0.8h-0.8zM158.7 189.8h0.8v0.8h-0.8zM168.2 190.4h0.8v0.8h-0.8zM170.6 194.1h0.8v0.8h-0.8zM168.0 189.9h0.8v0.8h-0.8zM167.7 195.7h0.8v0.8h-0.8zM164.2 189.8h0.8v0.8h-0.8zM161.1 190.4h0.8v0.8h-0.8zM167.9 190.1h0.8v0.8h-0.8zM160.5 190.2h0.8v0.8h-0.8zM167.3 193.0h0.8v0.8h-0.8zM163.2 192.0h0.8v0.8h-0.8zM170.4 191.6h0.8v0.8h-0.8zM161.2 190.4h0.8v0.8h-0.8zM171.0 192.0h0.8v0.8h-0.8zM161.9 191.8h0.8v0.8h-0.8zM159.3 198.6h0.8v0.8h-0.8zM164.2 191.3h0.8v0.8h-0.8zM165.4 189.7h0.8v0.8h-0.8zM166.4 190.3h0.8v0.8h-0.8zM161.5 193.2h0.8v0.8h-0.8z" fill="#fff"/>
<path d="M157.9 194.6h0.7v0.7h-0.7zM159.5 194.0h0.7v0.7h-0.7zM158.2 198.6h0.7v0.7h-0.7zM158.0 203.8h0.7v0.7h-0.7zM163.1 190.8h0.7v0.7h-0.7zM158.5 201.6h0.7v0.7h-0.7zM158.4 204.3h0.7v0.7h-0.7zM158.6 193.0h0.7v0.7h-0.7zM158.8 200.0h0.7v0.7h-0.7zM158.3 200.2h0.7v0.7h-0.7zM159.6 198.1h0.7v0.7h-0.7zM158.6 203.1h0.7v0.7h-0.7zM159.2 198.2h0.7v0.7h-0.7zM161.4 192.9h0.7v0.7h-0.7z" fill="#fff"/>
<path d="M157.7 191.4h0.9v0.9h-0.9zM158.8 190.9h0.9v0.9h-0.9zM161.0 191.5h0.9v0.9h-0.9zM158.4 195.3h0.9v0.9h-0.9zM157.7 193.3h0.9v0.9h-0.9zM158.0 193.8h0.9v0.9h-0.9zM158.1 189.3h0.9v0.9h-0.9zM160.4 192.5h0.9v0.9h-0.9zM161.5 192.4h0.9v0.9h-0.9zM158.0 191.1h0.9v0.9h-0.9zM160.1 189.8h0.9v0.9h-0.9zM159.7 190.8h0.9v0.9h-0.9zM157.8 195.5h0.9v0.9h-0.9zM161.8 192.7h0.9v0.9h-0.9zM160.0 191.1h0.9v0.9h-0.9zM157.9 191.8h0.9v0.9h-0.9zM158.7 191.7h0.9v0.9h-0.9zM159.3 190.1h0.9v0.9h-0.9zM159.4 192.2h0.9v0.9h-0.9zM157.8 193.9h0.9v0.9h-0.9zM161.0 192.7h0.9v0.9h-0.9zM158.3 191.7h0.9v0.9h-0.9zM159.3 193.8h0.9v0.9h-0.9zM159.4 194.7h0.9v0.9h-0.9zM159.6 190.6h0.9v0.9h-0.9zM158.5 191.1h0.9v0.9h-0.9zM158.1 189.5h0.9v0.9h-0.9zM161.2 189.7h0.9v0.9h-0.9zM158.7 189.5h0.9v0.9h-0.9zM161.0 190.9h0.9v0.9h-0.9zM159.1 189.9h0.9v0.9h-0.9zM158.4 190.5h0.9v0.9h-0.9zM158.9 191.1h0.9v0.9h-0.9zM158.3 189.9h0.9v0.9h-0.9z" fill="#fff"/>
<path d="M171.2 200.0h0.8v0.8h-0.8zM175.6 198.7h0.8v0.8h-0.8zM172.4 196.3h0.8v0.8h-0.8z" fill="#222"/>
<rect x="169.40" y="189.80" width="12.85" height="17.60" fill="none" stroke="#666" stroke-width="0.7"/>
<rect x="157.00" y="157.30" width="50.50" height="50.10" fill="none" stroke="#444" stroke-width="0.9"/>
<text x="162" y="167.70000000000002" font-size="10" font-family='"Liberation Serif", serif' font-weight="bold" stroke="#111" stroke-width="0.25" text-anchor="start" fill="#111">iii</text>
<text x="205.5" y="167.70000000000002" font-size="10" font-family='"Liberation Serif", serif' font-weight="bold" stroke="#111" stroke-width="0.25" text-anchor="end" fill="#111">2</text>
<polygon points="48.6,241.0 52.0,240.0 56.0,241.3 60.0,240.5 63.0,239.3 66.3,239.2 67.5,241.2 64.5,245.0 61.5,249.0 59.0,254.0 57.0,261.2 48.6,261.2" fill="#000"/>
<path d="M58.2 240.5h0.9v0.9h-0.9zM57.2 236.5h0.9v0.9h-0.9zM56.2 240.3h0.9v0.9h-0.9zM66.0 239.4h0.9v0.9h-0.9zM51.1 240.1h0.9v0.9h-0.9zM59.3 240.9h0.9v0.9h-0.9zM56.0 239.0h0.9v0.9h-0.9zM62.6 239.5h0.9v0.9h-0.9zM63.0 240.0h0.9v0.9h-0.9zM56.5 237.9h0.9v0.9h-0.9zM56.4 238.4h0.9v0.9h-0.9zM54.5 240.3h0.9v0.9h-0.9zM54.0 239.7h0.9v0.9h-0.9zM53.7 240.6h0.9v0.9h-0.9zM54.5 239.9h0.9v0.9h-0.9zM55.6 240.0h0.9v0.9h-0.9zM66.8 239.1h0.9v0.9h-0.9zM62.6 240.6h0.9v0.9h-0.9zM56.4 240.9h0.9v0.9h-0.9zM59.8 240.2h0.9v0.9h-0.9zM55.2 241.0h0.9v0.9h-0.9zM54.0 240.5h0.9v0.9h-0.9zM56.5 236.7h0.9v0.9h-0.9zM60.2 240.5h0.9v0.9h-0.9zM56.2 240.7h0.9v0.9h-0.9zM64.3 240.3h0.9v0.9h-0.9zM60.9 238.8h0.9v0.9h-0.9zM63.5 241.0h0.9v0.9h-0.9zM55.8 240.2h0.9v0.9h-0.9zM52.3 237.4h0.9v0.9h-0.9zM55.8 238.5h0.9v0.9h-0.9zM57.8 240.9h0.9v0.9h-0.9zM56.6 240.5h0.9v0.9h-0.9zM51.2 240.7h0.9v0.9h-0.9zM58.7 240.9h0.9v0.9h-0.9zM55.7 240.1h0.9v0.9h-0.9zM58.1 240.8h0.9v0.9h-0.9zM60.0 240.5h0.9v0.9h-0.9zM60.3 239.2h0.9v0.9h-0.9zM53.5 240.6h0.9v0.9h-0.9zM55.3 238.9h0.9v0.9h-0.9zM56.7 240.2h0.9v0.9h-0.9zM62.6 240.6h0.9v0.9h-0.9zM55.4 240.3h0.9v0.9h-0.9zM54.5 240.9h0.9v0.9h-0.9zM50.6 239.3h0.9v0.9h-0.9zM58.3 238.2h0.9v0.9h-0.9zM65.7 240.4h0.9v0.9h-0.9zM59.6 236.8h0.9v0.9h-0.9zM54.5 239.0h0.9v0.9h-0.9zM59.5 235.8h0.9v0.9h-0.9zM62.7 240.6h0.9v0.9h-0.9z" fill="#111"/>
<path d="M60.5 252.8h0.9v0.9h-0.9zM63.0 247.6h0.9v0.9h-0.9zM64.3 246.0h0.9v0.9h-0.9zM65.9 242.8h0.9v0.9h-0.9zM66.5 242.5h0.9v0.9h-0.9zM66.5 241.3h0.9v0.9h-0.9zM66.4 243.1h0.9v0.9h-0.9zM62.6 250.3h0.9v0.9h-0.9zM63.4 247.0h0.9v0.9h-0.9zM62.9 248.1h0.9v0.9h-0.9zM61.6 251.6h0.9v0.9h-0.9zM64.4 244.6h0.9v0.9h-0.9zM58.6 258.0h0.9v0.9h-0.9zM60.3 253.7h0.9v0.9h-0.9zM64.0 252.3h0.9v0.9h-0.9zM64.1 252.3h0.9v0.9h-0.9zM61.5 252.7h0.9v0.9h-0.9zM63.0 249.0h0.9v0.9h-0.9zM58.4 259.1h0.9v0.9h-0.9zM66.8 240.3h0.9v0.9h-0.9zM64.3 247.0h0.9v0.9h-0.9zM65.7 242.1h0.9v0.9h-0.9zM60.2 253.0h0.9v0.9h-0.9zM61.9 250.6h0.9v0.9h-0.9zM63.0 250.1h0.9v0.9h-0.9zM61.4 253.5h0.9v0.9h-0.9zM57.4 259.8h0.9v0.9h-0.9zM58.2 258.8h0.9v0.9h-0.9zM61.0 255.2h0.9v0.9h-0.9zM58.6 257.3h0.9v0.9h-0.9zM62.8 249.7h0.9v0.9h-0.9zM65.5 245.7h0.9v0.9h-0.9zM64.9 244.2h0.9v0.9h-0.9zM65.9 242.5h0.9v0.9h-0.9zM66.4 240.1h0.9v0.9h-0.9zM59.8 254.4h0.9v0.9h-0.9zM59.7 255.3h0.9v0.9h-0.9zM60.2 257.1h0.9v0.9h-0.9zM65.1 245.5h0.9v0.9h-0.9zM64.3 247.4h0.9v0.9h-0.9z" fill="#111"/>
<path d="M60.5 241.7h0.8v0.8h-0.8zM54.4 243.9h0.8v0.8h-0.8zM62.5 244.7h0.8v0.8h-0.8zM58.1 242.0h0.8v0.8h-0.8zM60.3 242.9h0.8v0.8h-0.8zM62.3 244.4h0.8v0.8h-0.8zM51.1 241.8h0.8v0.8h-0.8zM59.7 241.4h0.8v0.8h-0.8zM52.0 240.8h0.8v0.8h-0.8zM58.4 247.0h0.8v0.8h-0.8zM64.5 241.1h0.8v0.8h-0.8zM60.0 242.0h0.8v0.8h-0.8zM59.1 241.9h0.8v0.8h-0.8zM63.9 250.7h0.8v0.8h-0.8zM49.9 243.5h0.8v0.8h-0.8zM51.0 240.9h0.8v0.8h-0.8zM53.6 243.7h0.8v0.8h-0.8zM64.9 241.1h0.8v0.8h-0.8zM54.3 240.9h0.8v0.8h-0.8zM57.7 242.3h0.8v0.8h-0.8zM55.0 241.6h0.8v0.8h-0.8zM61.8 244.8h0.8v0.8h-0.8zM53.6 241.9h0.8v0.8h-0.8zM58.9 244.0h0.8v0.8h-0.8zM64.7 241.9h0.8v0.8h-0.8zM60.1 242.5h0.8v0.8h-0.8zM61.8 241.1h0.8v0.8h-0.8zM51.9 241.0h0.8v0.8h-0.8zM63.9 241.4h0.8v0.8h-0.8zM56.9 241.1h0.8v0.8h-0.8zM54.2 240.8h0.8v0.8h-0.8zM58.1 241.1h0.8v0.8h-0.8zM59.0 241.5h0.8v0.8h-0.8zM52.7 242.2h0.8v0.8h-0.8z" fill="#fff"/>
<path d="M49.4 246.1h0.7v0.7h-0.7zM49.0 242.6h0.7v0.7h-0.7zM51.6 247.0h0.7v0.7h-0.7zM49.0 244.7h0.7v0.7h-0.7zM49.7 259.2h0.7v0.7h-0.7zM49.2 256.9h0.7v0.7h-0.7zM49.7 248.9h0.7v0.7h-0.7zM50.9 248.5h0.7v0.7h-0.7zM49.0 251.3h0.7v0.7h-0.7zM50.2 252.6h0.7v0.7h-0.7zM49.3 258.2h0.7v0.7h-0.7zM51.3 259.2h0.7v0.7h-0.7zM49.6 256.3h0.7v0.7h-0.7zM50.4 244.6h0.7v0.7h-0.7z" fill="#fff"/>
<path d="M49.9 240.9h0.9v0.9h-0.9zM49.2 241.4h0.9v0.9h-0.9zM50.9 245.0h0.9v0.9h-0.9zM49.6 244.4h0.9v0.9h-0.9zM50.1 240.7h0.9v0.9h-0.9zM48.9 240.6h0.9v0.9h-0.9zM52.6 241.6h0.9v0.9h-0.9zM49.5 246.0h0.9v0.9h-0.9zM51.8 244.2h0.9v0.9h-0.9zM50.4 245.8h0.9v0.9h-0.9zM49.6 240.6h0.9v0.9h-0.9zM50.7 241.6h0.9v0.9h-0.9zM49.1 243.1h0.9v0.9h-0.9zM49.0 240.9h0.9v0.9h-0.9zM50.0 241.7h0.9v0.9h-0.9zM50.2 242.7h0.9v0.9h-0.9zM50.8 245.8h0.9v0.9h-0.9zM50.7 244.2h0.9v0.9h-0.9zM49.7 242.7h0.9v0.9h-0.9zM50.2 242.2h0.9v0.9h-0.9zM50.2 242.3h0.9v0.9h-0.9zM48.7 242.9h0.9v0.9h-0.9zM48.7 244.9h0.9v0.9h-0.9zM49.2 242.5h0.9v0.9h-0.9zM49.6 241.7h0.9v0.9h-0.9zM50.0 243.5h0.9v0.9h-0.9zM51.2 240.7h0.9v0.9h-0.9zM50.2 242.3h0.9v0.9h-0.9zM53.9 242.5h0.9v0.9h-0.9zM49.9 247.4h0.9v0.9h-0.9zM50.2 245.8h0.9v0.9h-0.9zM53.7 247.0h0.9v0.9h-0.9zM53.7 244.3h0.9v0.9h-0.9zM49.0 244.0h0.9v0.9h-0.9z" fill="#fff"/>
<path d="M66.6 245.0h0.8v0.8h-0.8zM63.2 249.3h0.8v0.8h-0.8zM68.6 246.2h0.8v0.8h-0.8zM62.5 246.5h0.8v0.8h-0.8zM68.9 244.8h0.8v0.8h-0.8zM66.1 246.7h0.8v0.8h-0.8zM66.2 245.3h0.8v0.8h-0.8zM65.9 251.0h0.8v0.8h-0.8zM67.9 248.8h0.8v0.8h-0.8zM65.0 248.3h0.8v0.8h-0.8zM61.9 250.6h0.8v0.8h-0.8zM66.5 247.4h0.8v0.8h-0.8zM66.3 247.1h0.8v0.8h-0.8zM64.1 245.5h0.8v0.8h-0.8z" fill="#222"/>
<rect x="60.00" y="242.50" width="12.75" height="18.80" fill="none" stroke="#666" stroke-width="0.7"/>
<rect x="48.10" y="211.50" width="50.00" height="49.80" fill="none" stroke="#444" stroke-width="0.9"/>
<text x="51.7" y="221.9" font-size="10" font-family='"Liberation Serif", serif' font-weight="bold" stroke="#111" stroke-width="0.25" text-anchor="start" fill="#111">i</text>
<text x="96.1" y="221.9" font-size="10" font-family='"Liberation Serif", serif' font-weight="bold" stroke="#111" stroke-width="0.25" text-anchor="end" fill="#111">49</text>
<polygon points="102.3,239.5 106.0,238.5 110.0,239.8 114.0,238.3 118.0,237.8 122.0,238.2 122.6,240.8 119.5,244.3 116.3,247.5 113.8,250.5 111.3,254.5 109.3,260.0 102.3,260.0" fill="#000"/>
<path d="M113.1 238.2h0.9v0.9h-0.9zM112.1 239.5h0.9v0.9h-0.9zM113.4 238.6h0.9v0.9h-0.9zM113.0 238.2h0.9v0.9h-0.9zM118.9 239.3h0.9v0.9h-0.9zM111.6 232.2h0.9v0.9h-0.9zM115.0 238.9h0.9v0.9h-0.9zM115.0 232.8h0.9v0.9h-0.9zM110.9 236.5h0.9v0.9h-0.9zM107.1 232.7h0.9v0.9h-0.9zM111.8 239.1h0.9v0.9h-0.9zM116.7 238.0h0.9v0.9h-0.9zM119.1 236.9h0.9v0.9h-0.9zM116.0 238.4h0.9v0.9h-0.9zM121.8 239.4h0.9v0.9h-0.9zM117.4 237.7h0.9v0.9h-0.9zM109.1 237.1h0.9v0.9h-0.9zM111.4 238.4h0.9v0.9h-0.9zM117.3 239.2h0.9v0.9h-0.9zM109.5 238.0h0.9v0.9h-0.9zM106.0 238.3h0.9v0.9h-0.9zM115.8 238.5h0.9v0.9h-0.9zM109.0 237.1h0.9v0.9h-0.9zM117.0 237.3h0.9v0.9h-0.9zM112.5 236.0h0.9v0.9h-0.9zM115.9 239.3h0.9v0.9h-0.9zM110.5 239.3h0.9v0.9h-0.9zM104.9 238.9h0.9v0.9h-0.9zM117.2 236.9h0.9v0.9h-0.9zM106.9 239.2h0.9v0.9h-0.9zM110.7 236.7h0.9v0.9h-0.9zM113.3 236.1h0.9v0.9h-0.9zM105.9 233.0h0.9v0.9h-0.9zM108.5 238.0h0.9v0.9h-0.9zM117.5 237.6h0.9v0.9h-0.9zM108.3 237.9h0.9v0.9h-0.9zM111.2 239.5h0.9v0.9h-0.9zM110.2 238.9h0.9v0.9h-0.9zM113.5 239.0h0.9v0.9h-0.9zM113.1 237.8h0.9v0.9h-0.9zM108.1 239.3h0.9v0.9h-0.9zM114.3 238.6h0.9v0.9h-0.9zM107.2 239.3h0.9v0.9h-0.9zM119.2 238.1h0.9v0.9h-0.9zM110.4 239.2h0.9v0.9h-0.9z" fill="#111"/>
<path d="M109.7 260.1h0.9v0.9h-0.9zM117.5 246.4h0.9v0.9h-0.9zM121.1 241.6h0.9v0.9h-0.9zM111.3 256.7h0.9v0.9h-0.9zM118.2 249.5h0.9v0.9h-0.9zM112.7 254.3h0.9v0.9h-0.9zM120.4 244.4h0.9v0.9h-0.9zM111.5 257.5h0.9v0.9h-0.9zM109.7 259.8h0.9v0.9h-0.9zM114.4 251.0h0.9v0.9h-0.9zM116.6 247.7h0.9v0.9h-0.9zM109.3 260.1h0.9v0.9h-0.9zM113.1 253.3h0.9v0.9h-0.9zM122.7 241.0h0.9v0.9h-0.9zM116.7 248.5h0.9v0.9h-0.9zM111.3 257.6h0.9v0.9h-0.9zM123.1 239.9h0.9v0.9h-0.9zM117.5 247.1h0.9v0.9h-0.9zM113.3 254.2h0.9v0.9h-0.9zM109.0 259.9h0.9v0.9h-0.9zM116.1 248.9h0.9v0.9h-0.9zM118.9 245.8h0.9v0.9h-0.9zM112.8 260.1h0.9v0.9h-0.9zM118.5 247.6h0.9v0.9h-0.9zM119.0 253.3h0.9v0.9h-0.9zM116.2 249.1h0.9v0.9h-0.9zM124.1 242.8h0.9v0.9h-0.9zM117.1 246.5h0.9v0.9h-0.9zM111.9 254.4h0.9v0.9h-0.9zM114.2 253.5h0.9v0.9h-0.9zM120.4 244.6h0.9v0.9h-0.9zM111.5 255.7h0.9v0.9h-0.9zM123.9 239.7h0.9v0.9h-0.9zM109.8 258.2h0.9v0.9h-0.9zM115.5 249.7h0.9v0.9h-0.9zM111.6 256.1h0.9v0.9h-0.9zM121.2 240.5h0.9v0.9h-0.9zM121.6 240.1h0.9v0.9h-0.9zM111.7 255.7h0.9v0.9h-0.9zM121.5 239.6h0.9v0.9h-0.9z" fill="#111"/>
<path d="M112.4 240.7h0.8v0.8h-0.8zM117.4 239.5h0.8v0.8h-0.8zM117.4 239.7h0.8v0.8h-0.8zM119.5 240.9h0.8v0.8h-0.8zM109.8 241.4h0.8v0.8h-0.8zM117.7 246.6h0.8v0.8h-0.8zM109.9 239.3h0.8v0.8h-0.8zM105.4 243.1h0.8v0.8h-0.8zM115.4 242.0h0.8v0.8h-0.8zM105.5 241.0h0.8v0.8h-0.8zM103.3 239.6h0.8v0.8h-0.8zM108.0 246.8h0.8v0.8h-0.8zM113.9 243.4h0.8v0.8h-0.8zM103.6 240.5h0.8v0.8h-0.8zM104.1 240.0h0.8v0.8h-0.8zM104.7 244.8h0.8v0.8h-0.8zM108.5 240.8h0.8v0.8h-0.8zM114.0 244.1h0.8v0.8h-0.8zM119.1 241.1h0.8v0.8h-0.8zM111.4 244.5h0.8v0.8h-0.8zM109.6 240.1h0.8v0.8h-0.8zM115.5 240.0h0.8v0.8h-0.8zM109.1 240.5h0.8v0.8h-0.8zM111.0 240.3h0.8v0.8h-0.8zM110.2 240.6h0.8v0.8h-0.8zM103.7 243.3h0.8v0.8h-0.8zM103.9 241.0h0.8v0.8h-0.8zM112.2 240.4h0.8v0.8h-0.8zM106.6 239.5h0.8v0.8h-0.8zM109.2 240.1h0.8v0.8h-0.8zM111.1 239.9h0.8v0.8h-0.8zM115.7 240.8h0.8v0.8h-0.8zM103.0 240.4h0.8v0.8h-0.8zM119.4 239.3h0.8v0.8h-0.8z" fill="#fff"/>
<path d="M103.7 258.5h0.7v0.7h-0.7zM103.1 251.5h0.7v0.7h-0.7zM103.2 245.8h0.7v0.7h-0.7zM103.7 251.4h0.7v0.7h-0.7zM103.1 249.6h0.7v0.7h-0.7zM103.5 254.5h0.7v0.7h-0.7zM102.7 241.8h0.7v0.7h-0.7zM102.9 245.2h0.7v0.7h-0.7zM104.5 248.2h0.7v0.7h-0.7zM105.0 247.8h0.7v0.7h-0.7zM103.0 253.1h0.7v0.7h-0.7zM102.7 259.0h0.7v0.7h-0.7zM104.7 246.3h0.7v0.7h-0.7zM103.1 255.8h0.7v0.7h-0.7z" fill="#fff"/>
<path d="M103.1 243.9h0.9v0.9h-0.9zM105.8 241.1h0.9v0.9h-0.9zM105.2 240.5h0.9v0.9h-0.9zM107.1 241.6h0.9v0.9h-0.9zM102.6 239.6h0.9v0.9h-0.9zM105.7 241.3h0.9v0.9h-0.9zM102.5 239.2h0.9v0.9h-0.9zM102.5 242.6h0.9v0.9h-0.9zM105.0 248.1h0.9v0.9h-0.9zM103.1 239.7h0.9v0.9h-0.9zM102.8 242.7h0.9v0.9h-0.9zM102.3 242.4h0.9v0.9h-0.9zM104.5 240.2h0.9v0.9h-0.9zM103.7 241.1h0.9v0.9h-0.9zM102.4 240.3h0.9v0.9h-0.9zM105.4 243.4h0.9v0.9h-0.9zM103.7 242.8h0.9v0.9h-0.9zM103.1 240.1h0.9v0.9h-0.9zM104.3 247.1h0.9v0.9h-0.9zM106.9 241.9h0.9v0.9h-0.9zM102.9 242.5h0.9v0.9h-0.9zM106.4 240.5h0.9v0.9h-0.9zM105.5 244.0h0.9v0.9h-0.9zM102.8 239.2h0.9v0.9h-0.9zM104.2 240.4h0.9v0.9h-0.9zM104.6 246.1h0.9v0.9h-0.9zM105.7 239.2h0.9v0.9h-0.9zM105.2 242.9h0.9v0.9h-0.9zM105.2 242.5h0.9v0.9h-0.9zM103.8 243.0h0.9v0.9h-0.9zM102.9 242.1h0.9v0.9h-0.9zM103.4 241.8h0.9v0.9h-0.9zM104.5 241.3h0.9v0.9h-0.9zM104.5 241.9h0.9v0.9h-0.9z" fill="#fff"/>
<path d="M119.9 247.3h0.8v0.8h-0.8zM118.1 248.5h0.8v0.8h-0.8zM120.9 246.9h0.8v0.8h-0.8zM118.9 246.0h0.8v0.8h-0.8zM115.8 251.2h0.8v0.8h-0.8zM118.0 246.2h0.8v0.8h-0.8zM114.4 252.2h0.8v0.8h-0.8zM116.6 251.0h0.8v0.8h-0.8zM117.0 250.0h0.8v0.8h-0.8zM117.9 253.7h0.8v0.8h-0.8zM120.4 248.3h0.8v0.8h-0.8zM117.4 245.9h0.8v0.8h-0.8zM119.3 244.6h0.8v0.8h-0.8zM116.1 252.4h0.8v0.8h-0.8zM114.2 250.8h0.8v0.8h-0.8zM118.0 249.3h0.8v0.8h-0.8z" fill="#222"/>
<rect x="113.10" y="243.10" width="13.15" height="18.20" fill="none" stroke="#666" stroke-width="0.7"/>
<rect x="101.80" y="211.50" width="50.20" height="49.80" fill="none" stroke="#444" stroke-width="0.9"/>
<text x="105.1" y="221.9" font-size="10" font-family='"Liberation Serif", serif' font-weight="bold" stroke="#111" stroke-width="0.25" text-anchor="start" fill="#111">ii</text>
<text x="150" y="221.9" font-size="10" font-family='"Liberation Serif", serif' font-weight="bold" stroke="#111" stroke-width="0.25" text-anchor="end" fill="#111">126</text>
<polygon points="156.6,242.0 160.0,241.5 164.0,242.6 168.0,241.3 172.0,240.5 175.0,240.8 175.0,242.5 171.5,245.3 167.5,249.0 164.5,253.5 162.0,258.0 161.0,261.2 156.6,261.2" fill="#000"/>
<path d="M164.3 241.8h0.9v0.9h-0.9zM172.5 240.3h0.9v0.9h-0.9zM169.5 241.9h0.9v0.9h-0.9zM169.2 241.7h0.9v0.9h-0.9zM162.7 241.1h0.9v0.9h-0.9zM167.0 241.8h0.9v0.9h-0.9zM168.9 241.0h0.9v0.9h-0.9zM171.2 239.0h0.9v0.9h-0.9zM167.9 241.5h0.9v0.9h-0.9zM172.5 240.5h0.9v0.9h-0.9zM163.8 239.7h0.9v0.9h-0.9zM168.4 241.6h0.9v0.9h-0.9zM163.4 242.0h0.9v0.9h-0.9zM166.2 241.7h0.9v0.9h-0.9zM163.9 241.7h0.9v0.9h-0.9zM161.8 241.2h0.9v0.9h-0.9zM163.6 241.6h0.9v0.9h-0.9zM163.7 241.2h0.9v0.9h-0.9zM170.7 241.8h0.9v0.9h-0.9zM170.4 239.7h0.9v0.9h-0.9zM167.0 241.1h0.9v0.9h-0.9zM168.5 241.1h0.9v0.9h-0.9zM167.5 239.0h0.9v0.9h-0.9zM169.0 241.6h0.9v0.9h-0.9zM160.2 238.8h0.9v0.9h-0.9zM164.6 240.2h0.9v0.9h-0.9zM163.2 241.3h0.9v0.9h-0.9zM164.6 240.5h0.9v0.9h-0.9zM172.3 241.2h0.9v0.9h-0.9zM166.5 241.5h0.9v0.9h-0.9zM163.2 238.5h0.9v0.9h-0.9zM161.4 238.7h0.9v0.9h-0.9zM167.5 241.9h0.9v0.9h-0.9zM171.2 241.9h0.9v0.9h-0.9zM166.5 241.9h0.9v0.9h-0.9zM174.1 241.6h0.9v0.9h-0.9z" fill="#111"/>
<path d="M163.2 258.5h0.9v0.9h-0.9zM173.7 242.0h0.9v0.9h-0.9zM163.0 260.1h0.9v0.9h-0.9zM165.1 255.6h0.9v0.9h-0.9zM167.9 251.3h0.9v0.9h-0.9zM170.7 247.1h0.9v0.9h-0.9zM165.9 254.8h0.9v0.9h-0.9zM174.2 242.2h0.9v0.9h-0.9zM162.8 259.5h0.9v0.9h-0.9zM171.0 247.0h0.9v0.9h-0.9zM166.4 260.1h0.9v0.9h-0.9zM164.6 260.1h0.9v0.9h-0.9zM175.0 241.1h0.9v0.9h-0.9zM166.6 254.6h0.9v0.9h-0.9zM162.5 259.5h0.9v0.9h-0.9zM162.1 259.2h0.9v0.9h-0.9zM166.7 257.2h0.9v0.9h-0.9zM176.0 241.5h0.9v0.9h-0.9zM168.7 251.6h0.9v0.9h-0.9zM164.0 256.0h0.9v0.9h-0.9zM168.3 257.3h0.9v0.9h-0.9zM169.7 248.5h0.9v0.9h-0.9zM175.9 240.3h0.9v0.9h-0.9zM167.7 252.1h0.9v0.9h-0.9zM166.4 253.7h0.9v0.9h-0.9zM163.2 257.7h0.9v0.9h-0.9zM171.9 246.2h0.9v0.9h-0.9zM170.5 247.6h0.9v0.9h-0.9zM171.9 245.3h0.9v0.9h-0.9zM163.3 257.8h0.9v0.9h-0.9zM171.0 247.1h0.9v0.9h-0.9zM167.5 254.3h0.9v0.9h-0.9zM175.1 241.6h0.9v0.9h-0.9zM172.3 245.9h0.9v0.9h-0.9zM170.2 248.8h0.9v0.9h-0.9zM162.2 259.9h0.9v0.9h-0.9zM165.9 256.2h0.9v0.9h-0.9zM164.7 256.1h0.9v0.9h-0.9zM168.3 252.5h0.9v0.9h-0.9zM163.9 257.1h0.9v0.9h-0.9z" fill="#111"/>
<path d="M163.5 241.9h0.8v0.8h-0.8zM171.3 242.1h0.8v0.8h-0.8zM161.0 246.4h0.8v0.8h-0.8zM171.9 247.7h0.8v0.8h-0.8zM163.0 247.7h0.8v0.8h-0.8zM160.1 244.6h0.8v0.8h-0.8zM171.7 242.3h0.8v0.8h-0.8zM160.0 244.3h0.8v0.8h-0.8zM170.8 244.7h0.8v0.8h-0.8zM171.8 243.1h0.8v0.8h-0.8zM163.4 242.1h0.8v0.8h-0.8zM162.0 247.9h0.8v0.8h-0.8zM159.0 242.2h0.8v0.8h-0.8zM163.0 241.9h0.8v0.8h-0.8zM162.5 242.2h0.8v0.8h-0.8zM159.8 243.4h0.8v0.8h-0.8zM165.8 243.6h0.8v0.8h-0.8zM169.1 243.4h0.8v0.8h-0.8zM171.7 242.0h0.8v0.8h-0.8zM161.2 242.0h0.8v0.8h-0.8zM162.5 244.9h0.8v0.8h-0.8zM171.4 243.3h0.8v0.8h-0.8zM160.3 242.7h0.8v0.8h-0.8zM166.2 242.6h0.8v0.8h-0.8zM169.5 249.7h0.8v0.8h-0.8zM164.7 243.8h0.8v0.8h-0.8zM170.3 243.2h0.8v0.8h-0.8zM160.8 248.1h0.8v0.8h-0.8zM172.2 241.9h0.8v0.8h-0.8zM169.1 242.9h0.8v0.8h-0.8zM158.8 242.2h0.8v0.8h-0.8zM160.5 244.7h0.8v0.8h-0.8zM161.1 241.8h0.8v0.8h-0.8zM161.2 245.3h0.8v0.8h-0.8z" fill="#fff"/>
<path d="M158.6 253.5h0.7v0.7h-0.7zM158.6 245.6h0.7v0.7h-0.7zM157.8 247.6h0.7v0.7h-0.7zM157.9 246.9h0.7v0.7h-0.7zM159.0 248.7h0.7v0.7h-0.7zM158.6 253.0h0.7v0.7h-0.7zM158.3 248.5h0.7v0.7h-0.7zM160.4 252.3h0.7v0.7h-0.7zM158.4 251.6h0.7v0.7h-0.7zM158.5 248.1h0.7v0.7h-0.7zM160.7 246.4h0.7v0.7h-0.7zM161.1 256.8h0.7v0.7h-0.7zM160.4 245.2h0.7v0.7h-0.7zM158.7 259.0h0.7v0.7h-0.7z" fill="#fff"/>
<path d="M157.8 243.6h0.9v0.9h-0.9zM157.8 244.0h0.9v0.9h-0.9zM158.6 242.5h0.9v0.9h-0.9zM159.2 242.4h0.9v0.9h-0.9zM160.3 244.6h0.9v0.9h-0.9zM159.1 245.2h0.9v0.9h-0.9zM162.5 241.6h0.9v0.9h-0.9zM159.6 241.8h0.9v0.9h-0.9zM160.1 241.5h0.9v0.9h-0.9zM157.8 246.0h0.9v0.9h-0.9zM159.2 244.4h0.9v0.9h-0.9zM159.7 243.7h0.9v0.9h-0.9zM160.6 242.1h0.9v0.9h-0.9zM159.3 242.0h0.9v0.9h-0.9zM158.4 242.0h0.9v0.9h-0.9zM158.0 243.9h0.9v0.9h-0.9zM159.4 247.0h0.9v0.9h-0.9zM157.6 249.1h0.9v0.9h-0.9zM159.8 241.6h0.9v0.9h-0.9zM162.5 244.4h0.9v0.9h-0.9zM160.0 241.8h0.9v0.9h-0.9zM158.6 248.0h0.9v0.9h-0.9zM159.5 241.6h0.9v0.9h-0.9zM158.0 243.8h0.9v0.9h-0.9zM159.5 247.0h0.9v0.9h-0.9zM162.4 242.5h0.9v0.9h-0.9zM159.1 247.2h0.9v0.9h-0.9zM158.5 247.7h0.9v0.9h-0.9zM157.9 243.6h0.9v0.9h-0.9zM158.2 244.2h0.9v0.9h-0.9zM157.7 249.4h0.9v0.9h-0.9zM160.1 242.1h0.9v0.9h-0.9zM159.7 246.7h0.9v0.9h-0.9zM161.2 246.4h0.9v0.9h-0.9z" fill="#fff"/>
<path d="M175.5 249.0h0.8v0.8h-0.8zM168.5 249.2h0.8v0.8h-0.8zM168.9 251.8h0.8v0.8h-0.8zM175.0 246.1h0.8v0.8h-0.8zM169.5 249.4h0.8v0.8h-0.8zM174.1 251.9h0.8v0.8h-0.8zM173.0 244.6h0.8v0.8h-0.8zM173.8 244.0h0.8v0.8h-0.8zM174.9 250.0h0.8v0.8h-0.8zM174.3 250.9h0.8v0.8h-0.8z" fill="#222"/>
<rect x="166.50" y="243.10" width="13.25" height="18.20" fill="none" stroke="#666" stroke-width="0.7"/>
<rect x="157.00" y="211.50" width="50.50" height="49.80" fill="none" stroke="#444" stroke-width="0.9"/>
<text x="160.3" y="221.9" font-size="10" font-family='"Liberation Serif", serif' font-weight="bold" stroke="#111" stroke-width="0.25" text-anchor="start" fill="#111">iii</text>
<text x="205.5" y="221.9" font-size="10" font-family='"Liberation Serif", serif' font-weight="bold" stroke="#111" stroke-width="0.25" text-anchor="end" fill="#111">48</text>
<text x="1.2" y="186.3" font-size="10.2" font-family='"Liberation Serif", serif' font-weight="bold" stroke="#111" stroke-width="0.25" text-anchor="start" fill="#111" textLength="15.8" lengthAdjust="spacingAndGlyphs">BM</text>
<text x="1" y="239.1" font-size="10.2" font-family='"Liberation Serif", serif' font-weight="bold" stroke="#111" stroke-width="0.25" text-anchor="start" fill="#111" textLength="27" lengthAdjust="spacingAndGlyphs">spleen</text>
<line x1="39.40" y1="167.00" x2="39.40" y2="201.00" stroke="#1a1a1a" stroke-width="0.9"/>
<line x1="39.40" y1="227.30" x2="39.40" y2="256.60" stroke="#1a1a1a" stroke-width="0.9"/>
<path d="M37.3 170.3 L39.4 164 L41.5 170.3 L39.4 168.6Z" fill="#1a1a1a"/>
<text x="44" y="214.2" font-size="8.4" font-family='"Liberation Serif", serif' font-weight="bold" stroke="#111" stroke-width="0.25" text-anchor="middle" fill="#111" transform="rotate(-90 44 214.2)" textLength="17.8" lengthAdjust="spacingAndGlyphs">CD38</text>
<line x1="61.90" y1="268.40" x2="103.10" y2="268.40" stroke="#1a1a1a" stroke-width="0.9"/>
<line x1="129.40" y1="268.40" x2="162.00" y2="268.40" stroke="#1a1a1a" stroke-width="0.9"/>
<path d="M159.2 266 L166 268.4 L159.2 270.8 L160.9 268.4Z" fill="#1a1a1a"/>
<text x="106.9" y="270.8" font-size="7.8" font-family='"Liberation Serif", serif' font-weight="bold" stroke="#111" stroke-width="0.25" text-anchor="start" fill="#111" textLength="18.7" lengthAdjust="spacingAndGlyphs">CD34</text>
<text x="21" y="280" font-size="8.3" font-family='"Liberation Serif", serif' font-weight="bold" stroke="#111" stroke-width="0.25" text-anchor="start" fill="#111" textLength="22.1" lengthAdjust="spacingAndGlyphs">SDF-1</text>
<text x="21" y="290" font-size="8.5" font-family='"Liberation Serif", serif' font-weight="bold" stroke="#111" stroke-width="0.25" text-anchor="start" fill="#111" textLength="33.4" lengthAdjust="spacingAndGlyphs"><tspan font-weight="normal" stroke-width="0.1" font-size="1.15em">α</tspan>CXCR4</text>
<line x1="62.50" y1="276.90" x2="71.90" y2="276.90" stroke="#1a1a1a" stroke-width="1.0"/>
<line x1="117.20" y1="276.70" x2="124.80" y2="276.70" stroke="#1a1a1a" stroke-width="1.0"/>
<line x1="121.00" y1="272.90" x2="121.00" y2="280.50" stroke="#1a1a1a" stroke-width="1.0"/>
<line x1="172.70" y1="276.70" x2="180.30" y2="276.70" stroke="#1a1a1a" stroke-width="1.0"/>
<line x1="176.50" y1="272.90" x2="176.50" y2="280.50" stroke="#1a1a1a" stroke-width="1.0"/>
<line x1="62.50" y1="287.50" x2="71.90" y2="287.50" stroke="#1a1a1a" stroke-width="1.0"/>
<line x1="116.50" y1="287.50" x2="125.90" y2="287.50" stroke="#1a1a1a" stroke-width="1.0"/>
<line x1="172.70" y1="287.30" x2="180.30" y2="287.30" stroke="#1a1a1a" stroke-width="1.0"/>
<line x1="176.50" y1="283.50" x2="176.50" y2="291.10" stroke="#1a1a1a" stroke-width="1.0"/>
<rect x="272.20" y="157.70" width="72.00" height="99.90" fill="none" stroke="#1a1a1a" stroke-width="0.9"/>
<text x="267" y="164.5" font-size="9.3" font-family='"Liberation Serif", serif' stroke="#111" stroke-width="0.15" text-anchor="end" fill="#111">60</text>
<text x="267" y="179.29999999999998" font-size="9.3" font-family='"Liberation Serif", serif' stroke="#111" stroke-width="0.15" text-anchor="end" fill="#111">50</text>
<text x="267" y="194.29999999999998" font-size="9.3" font-family='"Liberation Serif", serif' stroke="#111" stroke-width="0.15" text-anchor="end" fill="#111">40</text>
<text x="267" y="211.29999999999998" font-size="9.3" font-family='"Liberation Serif", serif' stroke="#111" stroke-width="0.15" text-anchor="end" fill="#111">30</text>
<text x="267" y="227.6" font-size="9.3" font-family='"Liberation Serif", serif' stroke="#111" stroke-width="0.15" text-anchor="end" fill="#111">20</text>
<text x="267" y="243.7" font-size="9.3" font-family='"Liberation Serif", serif' stroke="#111" stroke-width="0.15" text-anchor="end" fill="#111">10</text>
<text x="267" y="257.6" font-size="9.3" font-family='"Liberation Serif", serif' stroke="#111" stroke-width="0.15" text-anchor="end" fill="#111">0</text>
<text x="249.3" y="205.3" font-size="10.5" font-family='"Liberation Serif", serif' font-weight="bold" stroke="#111" stroke-width="0.25" text-anchor="middle" fill="#111" transform="rotate(-90 249.3 205.3)" textLength="64" lengthAdjust="spacingAndGlyphs">Migration (%)</text>
<text x="275.4" y="167.3" font-size="9.5" font-family='"Liberation Serif", serif' font-weight="bold" stroke="#111" stroke-width="0.25" text-anchor="start" fill="#111">i</text>
<rect x="283.40" y="231.50" width="14.60" height="26.10" fill="#000" stroke="#1a1a1a" stroke-width="0.9"/>
<line x1="290.70" y1="231.50" x2="290.70" y2="228.75" stroke="#1a1a1a" stroke-width="0.9"/>
<line x1="286.30" y1="228.75" x2="295.10" y2="228.75" stroke="#1a1a1a" stroke-width="0.9"/>
<rect x="318.75" y="168.75" width="13.75" height="88.85" fill="#000" stroke="#1a1a1a" stroke-width="0.9"/>
<line x1="325.62" y1="168.75" x2="325.62" y2="163.75" stroke="#1a1a1a" stroke-width="0.9"/>
<line x1="321.23" y1="163.75" x2="330.02" y2="163.75" stroke="#1a1a1a" stroke-width="0.9"/>
<text x="282.5" y="270.3" font-size="10.2" font-family='"Liberation Serif", serif' font-weight="bold" stroke="#111" stroke-width="0.25" text-anchor="start" fill="#111" textLength="14.7" lengthAdjust="spacingAndGlyphs">ctrl</text>
<text x="307.5" y="270.3" font-size="10.2" font-family='"Liberation Serif", serif' font-weight="bold" stroke="#111" stroke-width="0.25" text-anchor="start" fill="#111" textLength="41.2" lengthAdjust="spacingAndGlyphs">SCF+IL6</text>
<rect x="384.20" y="158.00" width="124.60" height="99.60" fill="none" stroke="#1a1a1a" stroke-width="0.9"/>
<line x1="446.40" y1="158.00" x2="446.40" y2="257.60" stroke="#1a1a1a" stroke-width="0.9"/>
<text x="381.3" y="258.1" font-size="9.3" font-family='"Liberation Serif", serif' stroke="#111" stroke-width="0.15" text-anchor="end" fill="#111">0</text>
<text x="381.3" y="243.30000000000004" font-size="9.3" font-family='"Liberation Serif", serif' stroke="#111" stroke-width="0.15" text-anchor="end" fill="#111">10</text>
<text x="381.3" y="226.70000000000002" font-size="9.3" font-family='"Liberation Serif", serif' stroke="#111" stroke-width="0.15" text-anchor="end" fill="#111">20</text>
<text x="381.3" y="210.10000000000002" font-size="9.3" font-family='"Liberation Serif", serif' stroke="#111" stroke-width="0.15" text-anchor="end" fill="#111">30</text>
<text x="381.3" y="193.5" font-size="9.3" font-family='"Liberation Serif", serif' stroke="#111" stroke-width="0.15" text-anchor="end" fill="#111">40</text>
<text x="381.3" y="176.90000000000003" font-size="9.3" font-family='"Liberation Serif", serif' stroke="#111" stroke-width="0.15" text-anchor="end" fill="#111">50</text>
<text x="381.3" y="161.4" font-size="9.3" font-family='"Liberation Serif", serif' stroke="#111" stroke-width="0.15" text-anchor="end" fill="#111">60</text>
<text x="365" y="209.9" font-size="10" font-family='"Liberation Serif", serif' font-weight="bold" stroke="#111" stroke-width="0.25" text-anchor="middle" fill="#111" transform="rotate(-90 365 209.9)" textLength="88" lengthAdjust="spacingAndGlyphs">Colonies /5x10<tspan dy="-3.2" font-size="8.5">5</tspan><tspan dy="3.2"> cells</tspan></text>
<text x="387" y="167.5" font-size="9.5" font-family='"Liberation Serif", serif' font-weight="bold" stroke="#111" stroke-width="0.25" text-anchor="start" fill="#111">ii</text>
<rect x="450.30" y="158.00" width="58.50" height="33.60" fill="#fff" stroke="#1a1a1a" stroke-width="0.9"/>
<rect x="452.70" y="161.10" width="3.90" height="3.90" fill="#969696" stroke="#1a1a1a" stroke-width="0.8"/>
<text x="459" y="166" font-size="8.2" font-family='"Liberation Serif", serif' stroke="#111" stroke-width="0.15" text-anchor="start" fill="#111" textLength="48" lengthAdjust="spacingAndGlyphs">Blast colonies</text>
<rect x="452.70" y="171.40" width="3.90" height="3.90" fill="#fff" stroke="#1a1a1a" stroke-width="0.8"/>
<text x="459" y="176.3" font-size="8.2" font-family='"Liberation Serif", serif' stroke="#111" stroke-width="0.15" text-anchor="start" fill="#111" textLength="45" lengthAdjust="spacingAndGlyphs">CFU-GEMM</text>
<rect x="452.70" y="181.20" width="3.90" height="3.90" fill="#000" stroke="#1a1a1a" stroke-width="0.8"/>
<text x="459" y="186" font-size="8.2" font-family='"Liberation Serif", serif' stroke="#111" stroke-width="0.15" text-anchor="start" fill="#111" textLength="33" lengthAdjust="spacingAndGlyphs">CFU-GM</text>
<rect x="392.70" y="228.40" width="13.60" height="19.10" fill="#969696" stroke="#1a1a1a" stroke-width="0.8"/>
<line x1="399.50" y1="228.40" x2="399.50" y2="226.00" stroke="#1a1a1a" stroke-width="0.9"/>
<line x1="397.30" y1="226.00" x2="401.70" y2="226.00" stroke="#1a1a1a" stroke-width="0.9"/>
<rect x="392.70" y="247.50" width="13.60" height="2.30" fill="#fff" stroke="#1a1a1a" stroke-width="0.8"/>
<rect x="392.70" y="249.80" width="13.60" height="7.80" fill="#2e2e2e" stroke="#1a1a1a" stroke-width="0.8"/>
<rect x="424.40" y="172.80" width="13.10" height="43.50" fill="#969696" stroke="#1a1a1a" stroke-width="0.8"/>
<line x1="430.95" y1="172.80" x2="430.95" y2="164.50" stroke="#1a1a1a" stroke-width="0.9"/>
<line x1="428.75" y1="164.50" x2="433.15" y2="164.50" stroke="#1a1a1a" stroke-width="0.9"/>
<rect x="424.40" y="216.30" width="13.10" height="28.70" fill="#fff" stroke="#1a1a1a" stroke-width="0.8"/>
<line x1="430.95" y1="216.30" x2="430.95" y2="215.60" stroke="#1a1a1a" stroke-width="0.9"/>
<line x1="428.95" y1="215.60" x2="432.95" y2="215.60" stroke="#1a1a1a" stroke-width="0.9"/>
<rect x="424.40" y="245.00" width="13.10" height="12.60" fill="#2e2e2e" stroke="#1a1a1a" stroke-width="0.8"/>
<rect x="455.10" y="240.70" width="13.90" height="3.50" fill="#969696" stroke="#1a1a1a" stroke-width="0.8"/>
<line x1="462.05" y1="240.70" x2="462.05" y2="239.00" stroke="#1a1a1a" stroke-width="0.9"/>
<line x1="459.85" y1="239.00" x2="464.25" y2="239.00" stroke="#1a1a1a" stroke-width="0.9"/>
<rect x="455.10" y="244.20" width="13.90" height="5.20" fill="#fff" stroke="#1a1a1a" stroke-width="0.8"/>
<rect x="455.10" y="249.40" width="13.90" height="8.20" fill="#2e2e2e" stroke="#1a1a1a" stroke-width="0.8"/>
<line x1="462.05" y1="249.40" x2="462.05" y2="247.00" stroke="#1a1a1a" stroke-width="0.9"/>
<line x1="460.05" y1="247.00" x2="464.05" y2="247.00" stroke="#1a1a1a" stroke-width="0.9"/>
<rect x="486.50" y="222.20" width="13.10" height="13.00" fill="#969696" stroke="#1a1a1a" stroke-width="0.8"/>
<line x1="493.05" y1="222.20" x2="493.05" y2="216.10" stroke="#1a1a1a" stroke-width="0.9"/>
<line x1="490.85" y1="216.10" x2="495.25" y2="216.10" stroke="#1a1a1a" stroke-width="0.9"/>
<rect x="486.50" y="235.20" width="13.10" height="14.60" fill="#fff" stroke="#1a1a1a" stroke-width="0.8"/>
<line x1="493.05" y1="235.20" x2="493.05" y2="234.50" stroke="#1a1a1a" stroke-width="0.9"/>
<line x1="491.05" y1="234.50" x2="495.05" y2="234.50" stroke="#1a1a1a" stroke-width="0.9"/>
<rect x="486.50" y="249.80" width="13.10" height="7.80" fill="#2e2e2e" stroke="#1a1a1a" stroke-width="0.8"/>
<line x1="493.05" y1="249.80" x2="493.05" y2="246.50" stroke="#1a1a1a" stroke-width="0.9"/>
<line x1="491.05" y1="246.50" x2="495.05" y2="246.50" stroke="#1a1a1a" stroke-width="0.9"/>
<text x="388.75" y="270.4" font-size="10.2" font-family='"Liberation Serif", serif' font-weight="bold" stroke="#111" stroke-width="0.25" text-anchor="start" fill="#111" textLength="15" lengthAdjust="spacingAndGlyphs">ctrl</text>
<text x="410" y="270.4" font-size="10.2" font-family='"Liberation Serif", serif' font-weight="bold" stroke="#111" stroke-width="0.25" text-anchor="start" fill="#111" textLength="41.3" lengthAdjust="spacingAndGlyphs">SCF+IL6</text>
<text x="456.5" y="270.2" font-size="10.2" font-family='"Liberation Serif", serif' font-weight="bold" stroke="#111" stroke-width="0.25" text-anchor="start" fill="#111" textLength="14.8" lengthAdjust="spacingAndGlyphs">ctrl</text>
<text x="477.5" y="270.2" font-size="10.2" font-family='"Liberation Serif", serif' font-weight="bold" stroke="#111" stroke-width="0.25" text-anchor="start" fill="#111" textLength="39.8" lengthAdjust="spacingAndGlyphs">SCF+IL6</text>
<text x="402.5" y="285.6" font-size="10.2" font-family='"Liberation Serif", serif' font-weight="bold" stroke="#111" stroke-width="0.25" text-anchor="start" fill="#111" textLength="16.3" lengthAdjust="spacingAndGlyphs">BM</text>
<text x="459.4" y="285" font-size="10.2" font-family='"Liberation Serif", serif' font-weight="bold" stroke="#111" stroke-width="0.25" text-anchor="start" fill="#111" textLength="27.5" lengthAdjust="spacingAndGlyphs">spleen</text>
</svg>
</body></html>
